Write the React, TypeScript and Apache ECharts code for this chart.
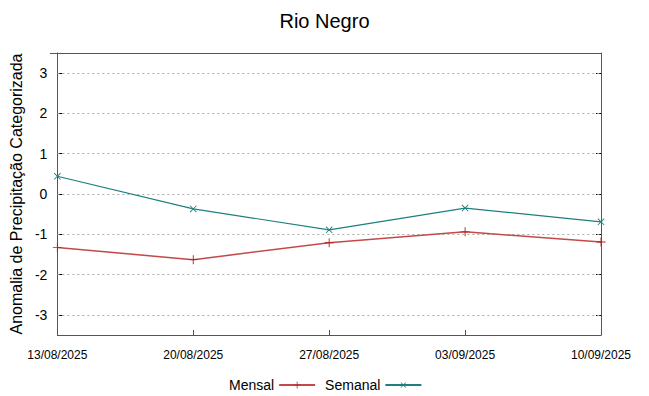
import React, { useEffect, useRef } from "react";
import * as echarts from "echarts";

const categories = ["13/08/2025", "20/08/2025", "27/08/2025", "03/09/2025", "10/09/2025"];
const mensal = [-1.33, -1.63, -1.21, -0.94, -1.19];
const semanal = [0.44, -0.37, -0.89, -0.35, -0.69];
const yTicks = [-3, -2, -1, 0, 1, 2, 3];

const PLUS = "path://M0,4.5L10,4.5L10,5.5L0,5.5Z M4.5,0L5.5,0L5.5,10L4.5,10Z";

export default function App() {
  const ref = useRef<HTMLDivElement>(null);
  useEffect(() => {
    if (!ref.current) return;
    const chart = echarts.init(ref.current, null, { renderer: "svg" });
    const axisCommon = {
      type: "value" as const,
      min: -3.5,
      max: 3.5,
    };
    chart.setOption({
      animation: false,
      backgroundColor: "#ffffff",
      title: {
        text: "Rio Negro",
        left: "center",
        top: 6,
        textStyle: { fontFamily: "Liberation Sans", fontSize: 20, fontWeight: "normal", color: "#000" },
      },
      legend: {
        left: 224,
        top: 373,
        itemWidth: 36,
        itemHeight: 9,
        itemGap: 9,
        align: "right",
        textStyle: { fontFamily: "Liberation Sans", fontSize: 14, color: "#000" },
        data: ["Mensal", "Semanal"],
      },
      grid: { left: 50, right: 48, top: 53, bottom: 61, show: false },
      xAxis: {
        type: "category",
        data: categories,
        boundaryGap: false,
        axisLine: { show: true, onZero: false, lineStyle: { color: "#555", width: 1 } },
        axisTick: { show: true, inside: true, length: 5, lineStyle: { color: "#555" } },
        axisLabel: {
          fontFamily: "Liberation Sans",
          fontSize: 12,
          color: "#000",
          margin: 14,
          showMinLabel: true,
          showMaxLabel: true,
        },
        splitLine: { show: false },
      },
      yAxis: [
        {
          ...axisCommon,
          name: "Anomalia de Precipitação Categorizada",
          nameLocation: "middle",
          nameGap: 30,
          nameRotate: 90,
          nameTextStyle: { fontFamily: "Liberation Sans", fontSize: 16, color: "#000" },
          axisLine: { show: true, onZero: false, lineStyle: { color: "#555" } },
          axisTick: { show: true, inside: true, length: 5, lineStyle: { color: "#000" }, customValues: yTicks },
          axisLabel: {
            fontFamily: "Liberation Sans",
            fontSize: 14,
            color: "#000",
            margin: 10,
            customValues: yTicks,
          },
          splitLine: { show: false },
        },
        {
          ...axisCommon,
          position: "right",
          axisLine: { show: true, onZero: false, lineStyle: { color: "#555" } },
          axisTick: { show: true, inside: true, length: 5, lineStyle: { color: "#000" }, customValues: yTicks },
          axisLabel: { show: false },
          splitLine: { show: false },
        },
      ],
      graphic: [
        {
          type: "line",
          shape: { x1: 50, y1: 53.5, x2: 601, y2: 53.5 },
          style: { stroke: "#555", lineWidth: 1 },
        },
      ],
      series: [
        {
          name: "Mensal",
          type: "line",
          data: mensal,
          symbol: PLUS,
          symbolSize: 9,
          lineStyle: { color: "#c24a4a", width: 1.5 },
          itemStyle: { color: "#b02020" },
          markLine: {
            silent: true,
            symbol: "none",
            label: { show: false },
            lineStyle: { color: "#aaa", type: [2, 3], width: 1 },
            z: 1,
            data: yTicks.map((v) => ({ yAxis: v })),
          },
        },
        {
          name: "Semanal",
          type: "line",
          data: semanal,
          symbol: PLUS,
          symbolSize: 9,
          symbolRotate: 45,
          lineStyle: { color: "#1f7f7f", width: 1.2 },
          itemStyle: { color: "#1f7f7f" },
        },
      ],
    });
    return () => chart.dispose();
  }, []);
  return <div ref={ref} style={{ width: 649, height: 396, position: "absolute", left: 0, top: 0 }} />;
}
